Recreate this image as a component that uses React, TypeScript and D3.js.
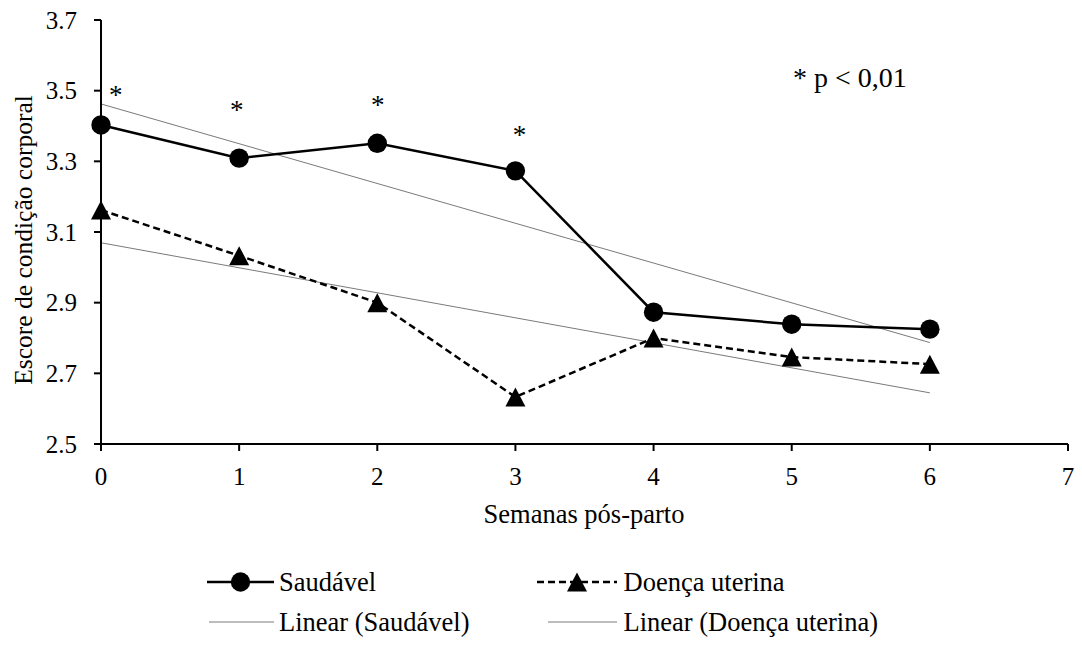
import React from "react";
import * as d3 from "d3";

const weeks = [0, 1, 2, 3, 4, 5, 6];
const saudavel = [3.403, 3.309, 3.351, 3.273, 2.873, 2.839, 2.825];
const doenca = [3.162, 3.033, 2.9, 2.633, 2.8, 2.746, 2.726];
const xTicks = [0, 1, 2, 3, 4, 5, 6, 7];
const yTicks = [2.5, 2.7, 2.9, 3.1, 3.3, 3.5, 3.7];
const asterisks = [
  { x: 0.106, y: 3.497 },
  { x: 0.982, y: 3.454 },
  { x: 2.004, y: 3.469 },
  { x: 3.03, y: 3.384 },
];

const FONT = '"Liberation Serif", "Times New Roman", Times, serif';

function linFit(xs: number[], ys: number[]) {
  const mx = d3.mean(xs)!;
  const my = d3.mean(ys)!;
  let num = 0, den = 0;
  xs.forEach((x, i) => {
    num += (x - mx) * (ys[i] - my);
    den += (x - mx) * (x - mx);
  });
  const b = num / den;
  const a = my - b * mx;
  return (x: number) => a + b * x;
}

export default function App() {
  const W = 1082, H = 646;
  const x = d3.scaleLinear().domain([0, 7]).range([101, 1068]);
  const y = d3.scaleLinear().domain([2.5, 3.7]).range([444, 20]);

  const line = d3
    .line<[number, number]>()
    .x((d) => x(d[0]))
    .y((d) => y(d[1]));

  const sPts: [number, number][] = weeks.map((w, i) => [w, saudavel[i]]);
  const dPts: [number, number][] = weeks.map((w, i) => [w, doenca[i]]);
  const fs = linFit(weeks, saudavel);
  const fd = linFit(weeks, doenca);
  const x0 = weeks[0], x1 = weeks[weeks.length - 1];
  const sTrend: [number, number][] = [[x0, fs(x0)], [x1, fs(x1)]];
  const dTrend: [number, number][] = [[x0, fd(x0)], [x1, fd(x1)]];

  const tri = (cx: number, cy: number, s = 10) =>
    `M${cx},${cy - s * 0.95} L${cx + s},${cy + s * 0.95} L${cx - s},${cy + s * 0.95} Z`;

  const trendStyle = { stroke: "#7a7a7a", strokeWidth: 1, fill: "none" };
  const tick = { fontFamily: FONT, fontSize: 25 } as React.CSSProperties;
  const ts = { fontFamily: FONT, fontSize: 26.5 } as React.CSSProperties;

  const row1 = 582, row2 = 622;

  return (
    <svg
      width={W}
      height={H}
      style={{ position: "absolute", left: 0, top: 0, background: "#fff", fontFamily: FONT }}
    >
      <rect width={W} height={H} fill="#fff" />
      {/* trend lines */}
      <path d={line(sTrend)!} {...trendStyle} />
      <path d={line(dTrend)!} {...trendStyle} />

      {/* axes */}
      <line x1={x(0)} x2={x(0)} y1={y(3.7)} y2={y(2.5)} stroke="#000" strokeWidth={2} />
      <line x1={x(0)} x2={x(7)} y1={y(2.5)} y2={y(2.5)} stroke="#000" strokeWidth={2} />
      {yTicks.map((t) => (
        <g key={"y" + t}>
          <line x1={x(0) - 7} x2={x(0)} y1={y(t)} y2={y(t)} stroke="#000" strokeWidth={2} />
          <text x={77} y={y(t)} dy="0.34em" textAnchor="end" style={tick}>
            {t.toFixed(1)}
          </text>
        </g>
      ))}
      {xTicks.map((t) => (
        <g key={"x" + t}>
          <line x1={x(t)} x2={x(t)} y1={y(2.5)} y2={y(2.5) + 7} stroke="#000" strokeWidth={2} />
          <text x={x(t)} y={485} textAnchor="middle" style={tick}>
            {t}
          </text>
        </g>
      ))}

      {/* axis titles */}
      <text x={584} y={523} textAnchor="middle" style={ts}>
        Semanas pós-parto
      </text>
      <text transform={`translate(32,240) rotate(-90)`} textAnchor="middle" style={{ ...ts, fontSize: 25.5 }}>
        Escore de condição corporal
      </text>

      {/* series */}
      <path d={line(dPts)!} stroke="#000" strokeWidth={2.5} fill="none" strokeDasharray="7,4" />
      <path d={line(sPts)!} stroke="#000" strokeWidth={2.5} fill="none" />
      {sPts.map((p, i) => (
        <circle key={"c" + i} cx={x(p[0])} cy={y(p[1])} r={9.7} fill="#000" />
      ))}
      {dPts.map((p, i) => (
        <path key={"t" + i} d={tri(x(p[0]), y(p[1]))} fill="#000" />
      ))}

      {/* asterisks */}
      {asterisks.map((a, i) => (
        <text key={"a" + i} x={x(a.x)} y={y(a.y) + 12} textAnchor="middle" style={{ ...ts, fontSize: 27 }}>
          *
        </text>
      ))}
      <text x={793} y={87} style={{ ...ts, fontSize: 28 }}>
        * p &lt; 0,01
      </text>

      {/* legend */}
      <line x1={207} x2={274} y1={row1} y2={row1} stroke="#000" strokeWidth={2.5} />
      <circle cx={240.5} cy={row1} r={9.7} fill="#000" />
      <text x={279} y={row1 + 9} style={ts}>Saudável</text>

      <line x1={537} x2={617} y1={row1} y2={row1} stroke="#000" strokeWidth={2.5} strokeDasharray="7,4" />
      <path d={tri(577, row1)} fill="#000" />
      <text x={623.5} y={row1 + 9} style={ts}>Doença uterina</text>

      <line x1={209} x2={274} y1={row2} y2={row2} {...trendStyle} />
      <text x={279} y={row2 + 9} style={ts}>Linear (Saudável)</text>

      <line x1={548} x2={617} y1={row2} y2={row2} {...trendStyle} />
      <text x={623.5} y={row2 + 9} style={ts}>Linear (Doença uterina)</text>
    </svg>
  );
}
